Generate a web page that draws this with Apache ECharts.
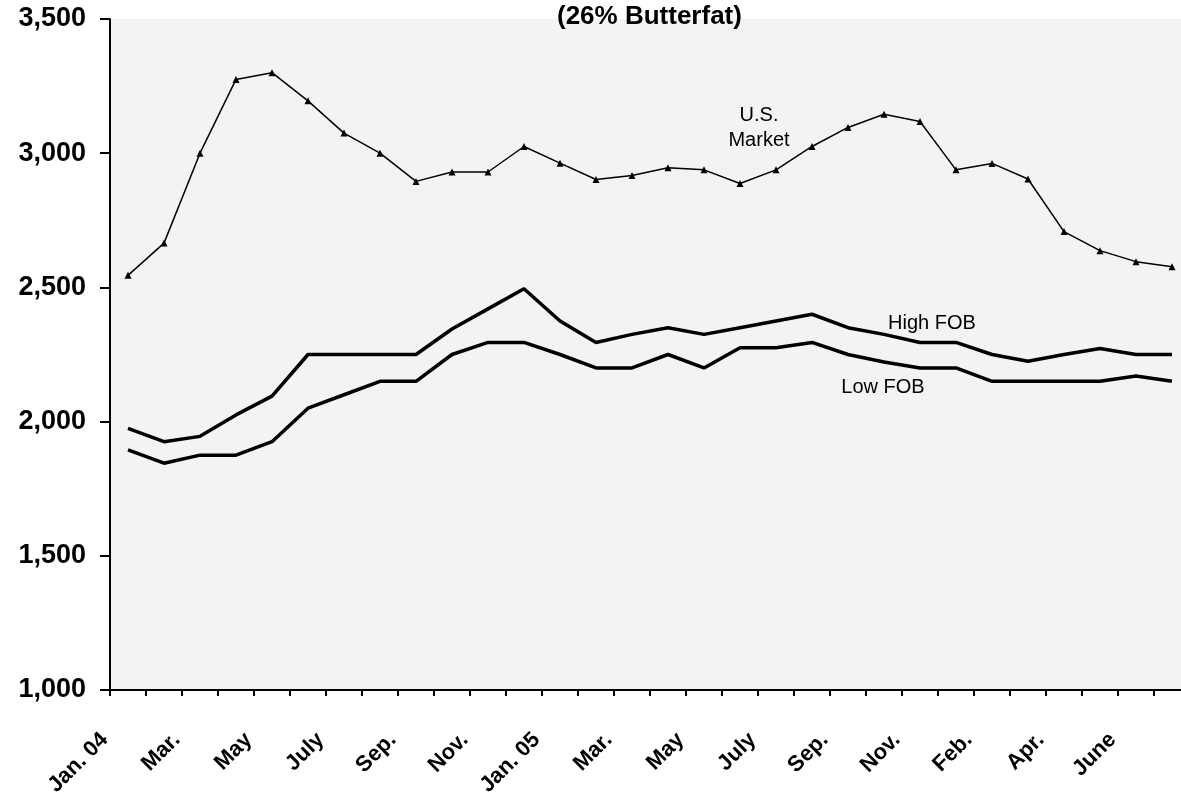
<!DOCTYPE html>
<html>
<head>
<meta charset="utf-8">
<script src="https://cdn.jsdelivr.net/npm/echarts@6/dist/echarts.min.js"></script>
<style>
    html, body {margin: 0; padding: 0; background: #fff;}
    #main {width: 1181px; height: 795px;}
</style>
</head>
<body>
<div id="main"></div>
<script>
// months, Jan 2004 - July 2006 (Jan 06 not reported)
const months = ['Jan. 04', 'Feb.', 'Mar.', 'Apr.', 'May', 'June', 'July', 'Aug.', 'Sep.', 'Oct.', 'Nov.', 'Dec.',
    'Jan. 05', 'Feb.', 'Mar.', 'Apr.', 'May', 'June', 'July', 'Aug.', 'Sep.', 'Oct.', 'Nov.', 'Dec.',
    'Feb.', 'Mar.', 'Apr.', 'May', 'June', 'July'];

const us_market = [2545, 2665, 3000, 3275, 3300, 3195, 3075, 3000, 2895, 2930, 2930, 3025,
    2963, 2902, 2917, 2946, 2938, 2887, 2938, 3025, 3096, 3145, 3118, 2938,
    2962, 2904, 2708, 2637, 2596, 2577];

const high_fob = [1975, 1925, 1945, 2025, 2095, 2250, 2250, 2250, 2250, 2345, 2420, 2495,
    2375, 2295, 2325, 2350, 2325, 2350, 2375, 2400, 2350, 2325, 2295, 2295,
    2250, 2225, 2250, 2272, 2250, 2250];

const low_fob = [1895, 1845, 1875, 1875, 1925, 2050, 2100, 2150, 2150, 2250, 2295, 2295,
    2250, 2200, 2200, 2250, 2200, 2275, 2275, 2295, 2250, 2222, 2200, 2200,
    2150, 2150, 2150, 2150, 2170, 2150];

const chart = echarts.init(document.getElementById('main'));
const font = 'Liberation Sans, Arial, sans-serif';

// text note pinned to a data point of a series
const note = (text, coord, offset) => ({
    symbol: 'circle', symbolSize: 1,
    itemStyle: {color: 'rgba(0,0,0,0)'},
    label: {
        show: true, position: 'inside', formatter: text, offset: offset,
        color: '#000', fontFamily: font, fontSize: 20, lineHeight: 25
    },
    data: [{coord: coord}]
});

chart.setOption({
    animation: false,
    backgroundColor: '#fff',
    title: {
        text: '(26% Butterfat)', left: 552, top: -1,
        textStyle: {fontFamily: font, fontWeight: 'bold', fontSize: 26, color: '#000'}
    },
    grid: {
        left: 110, top: 19, bottom: 105, right: -9, outerBoundsMode: 'none',
        show: true, backgroundColor: '#f3f3f3', borderWidth: 0
    },
    xAxis: {
        type: 'category', data: months, boundaryGap: true,
        axisLine: {lineStyle: {color: '#000', width: 2}},
        axisTick: {show: true, interval: 0, length: 6, lineStyle: {color: '#000', width: 2}},
        axisLabel: {
            interval: 1, rotate: 45, margin: 23, padding: [0, 33, 0, 0],
            color: '#000', fontFamily: font, fontWeight: 'bold', fontSize: 22
        },
        splitLine: {show: false}
    },
    yAxis: {
        type: 'value', min: 1000, max: 3500, interval: 500,
        axisLine: {show: true, lineStyle: {color: '#000', width: 2}},
        axisTick: {show: true, length: 10, lineStyle: {color: '#000', width: 2}},
        axisLabel: {margin: 24, color: '#000', fontFamily: font, fontWeight: 'bold', fontSize: 27},
        splitLine: {show: false}
    },
    series: [
        {
            name: 'U.S. Market', type: 'line', data: us_market,
            symbol: 'triangle', symbolSize: 7, showSymbol: true,
            itemStyle: {color: '#000'}, lineStyle: {color: '#000', width: 1.5},
            markPoint: note('U.S.\nMarket', [18, 3098], [-17, 1])
        },
        {
            name: 'High FOB', type: 'line', data: high_fob, symbol: 'none',
            lineStyle: {color: '#000', width: 3.5},
            markPoint: note('High FOB', [22, 2369], [12, 1])
        },
        {
            name: 'Low FOB', type: 'line', data: low_fob, symbol: 'none',
            lineStyle: {color: '#000', width: 3.5},
            markPoint: note('Low FOB', [21, 2131], [-1, 1])
        }
    ]
});
</script>
</body>
</html>
